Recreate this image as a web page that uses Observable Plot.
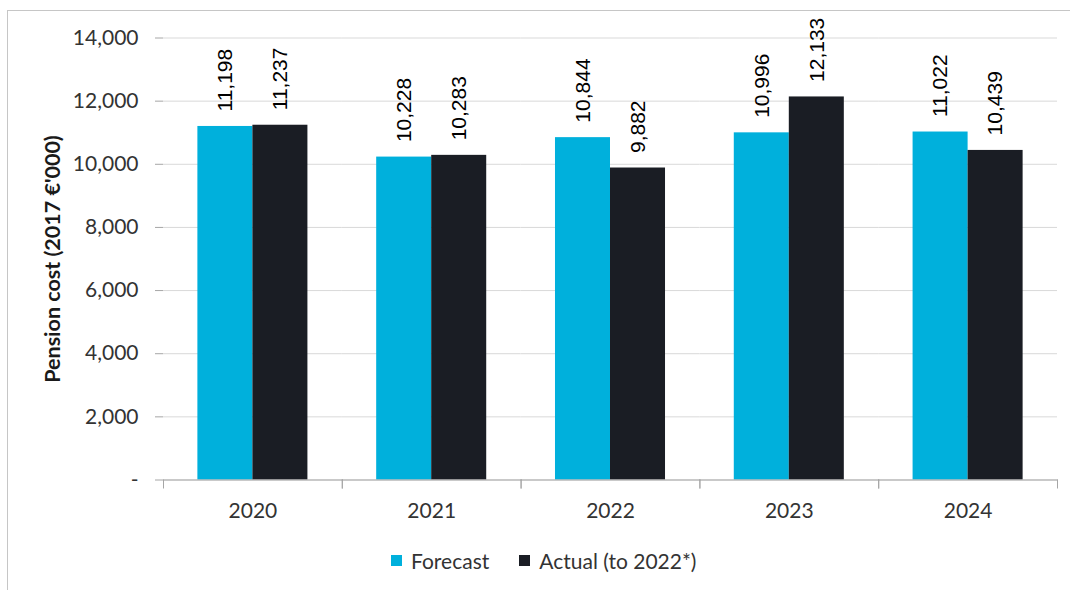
<!DOCTYPE html>
<html>
<head>
<meta charset="utf-8">
<script src="https://cdn.jsdelivr.net/npm/d3@7"></script>
<script src="https://cdn.jsdelivr.net/npm/@observablehq/plot@0.6"></script>
<style>
  html, body { margin: 0; padding: 0; background: #fff; overflow: hidden; }
  #wrap { position: relative; width: 1070px; height: 590px; }
  #border { position: absolute; left: 7px; top: 10px; width: 1100px; height: 620px; border: 1px solid #c6c6c6; box-sizing: border-box; }
  #chart { position: absolute; left: 0; top: 0; }
  #legend { position: absolute; left: 391px; top: 548px; }
  .lg-swatches { font-family: Lato, sans-serif !important; font-size: 21px !important; color: #333 !important; margin: 0 !important; min-height: 0 !important; display: flex !important; align-items: center; }
  .lg-swatch { margin-right: 30px !important; }
  .lg-swatch > svg { margin-right: 9px !important; }
</style>
</head>
<body>
<div id="wrap">
  <div id="border"></div>
  <div id="chart"></div>
  <div id="legend"></div>
</div>
<script>
const years = ["2020", "2021", "2022", "2023", "2024"];
const forecast = [11198, 10228, 10844, 10996, 11022];
const actual = [11237, 10283, 9882, 12133, 10439];
const seriesNames = ["Forecast", "Actual (to 2022*)"];
const seriesColors = ["#00b0dc", "#1a1d24"];
const yTicks = [0, 2000, 4000, 6000, 8000, 10000, 12000, 14000];
const yLabel = "Pension cost (2017 €'000)";

const data = [];
years.forEach((yr, i) => {
  data.push({year: yr, series: seriesNames[0], value: forecast[i]});
  data.push({year: yr, series: seriesNames[1], value: actual[i]});
});

const fmt = d3.format(",");
const axisGray = "#a6a6a6";

const plot = Plot.plot({
  width: 1070,
  height: 530,
  marginLeft: 163,
  marginRight: 13,
  marginTop: 37.5,
  marginBottom: 50.5,
  style: {fontFamily: "Lato, sans-serif", fontSize: "21px", color: "#333", background: "transparent", overflow: "visible"},
  fx: {domain: years, padding: 0, round: false, label: null},
  x: {domain: seriesNames, paddingInner: 0, paddingOuter: 0.625, round: false, axis: null},
  y: {domain: [0, 14000], label: null},
  color: {domain: seriesNames, range: seriesColors},
  marks: [
    Plot.gridY(yTicks, {stroke: "#d9d9d9", strokeOpacity: 1}),
    Plot.barY(data, {fx: "year", x: "series", y: "value", fill: "series"}),
    Plot.text(data, {
      fx: "year", x: "series", y: "value",
      text: d => fmt(d.value),
      rotate: -90, textAnchor: "start", lineAnchor: "middle", dy: -15,
      fontFamily: "Liberation Sans, Arial, sans-serif", fontSize: 21, fill: "#000"
    }),
    Plot.frame({anchor: "bottom", stroke: axisGray}),
    Plot.frame({anchor: "left", stroke: axisGray, insetTop: 442, insetBottom: -8}),
    Plot.frame({anchor: "right", stroke: axisGray, insetTop: 442, insetBottom: -8}),
    Plot.axisY(yTicks, {
      tickSize: 8, tickPadding: 17, stroke: axisGray, line: true,
      tickFormat: d => d === 0 ? "-" : fmt(d), label: null, fill: "#333"
    }),
    Plot.axisY([], {
      tickSize: 0, label: yLabel, labelAnchor: "center", labelArrow: "none",
      labelOffset: 119, fontWeight: "bold", fontSize: 21.5, fill: "#1a1a1a"
    }),
    Plot.axisFx({anchor: "bottom", tickSize: 0, tickPadding: 23, label: null, fill: "#333"})
  ]
});
document.getElementById("chart").appendChild(plot);

const legend = Plot.legend({
  color: {domain: seriesNames, range: seriesColors},
  swatchSize: 11,
  className: "lg"
});
document.getElementById("legend").appendChild(legend);
</script>
</body>
</html>
